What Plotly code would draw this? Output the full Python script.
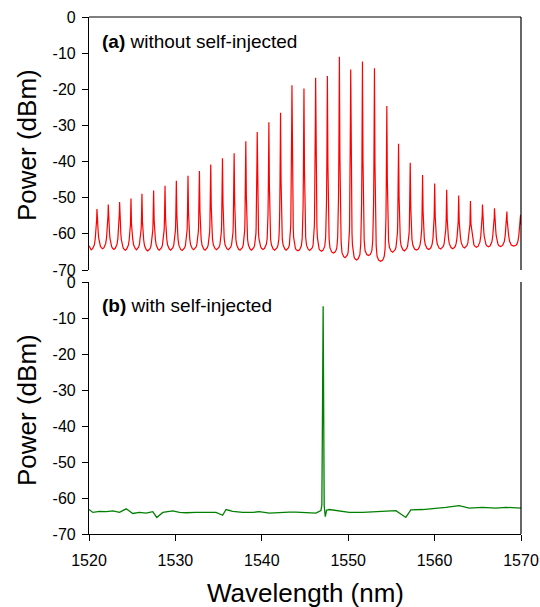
import numpy as np
import plotly.graph_objects as go
from plotly.subplots import make_subplots

# ---------------- data ----------------
WL_RANGE = [1520, 1570]
X_TICKS = [1520, 1530, 1540, 1550, 1560, 1570]
X_TICK_LABELS = ["1520", "1530", "1540", "1550", "1560", "1570"]
Y_RANGE = [-70, 0]
Y_TICKS = [0, -10, -20, -30, -40, -50, -60, -70]
Y_TICK_LABELS = ["0", "-10", "-20", "-30", "-40", "-50", "-60", "-70"]

# (a) without self-injection: Fabry-Perot longitudinal modes
MODE_WL = [1520.92, 1522.23, 1523.54, 1524.86, 1526.13, 1527.48, 1528.80, 1530.11,
           1531.46, 1532.78, 1534.09, 1535.45, 1536.80, 1538.15, 1539.47, 1540.82,
           1542.17, 1543.49, 1544.88, 1546.23, 1547.59, 1548.98, 1550.29, 1551.65,
           1553.04, 1554.47, 1555.83, 1557.18, 1558.61, 1560.01, 1561.40, 1562.79,
           1564.15, 1565.54, 1566.93, 1568.37, 1569.95]
MODE_DBM = [-53.1, -51.9, -51.2, -50.2, -48.9, -48.0, -46.7, -45.3,
            -43.9, -42.6, -40.8, -39.1, -37.7, -34.4, -31.8, -29.1,
            -26.5, -18.9, -19.8, -16.8, -16.3, -11.0, -14.5, -12.3,
            -14.2, -24.6, -35.1, -40.3, -43.7, -46.1, -47.8, -49.4,
            -50.9, -51.9, -52.9, -53.8, -54.7]
# floor level left of each mode (before mode 1, then between consecutive modes)
VALLEY_DBM = [-64.4, -64.1, -64.3, -64.5, -64.4, -64.7, -64.5, -64.5,
              -64.6, -64.4, -64.5, -64.4, -64.4, -64.5, -64.5, -64.3,
              -64.5, -64.5, -64.7, -64.6, -64.8, -65.3, -66.6, -67.2,
              -66.0, -67.6, -65.1, -64.7, -64.5, -64.3, -64.2, -64.1,
              -63.9, -63.7, -63.6, -63.5, -63.4]
START_DBM = -63.3

# single-mode line shape
PROFILE_DX = [0.00, 0.03, 0.06, 0.10, 0.13, 0.15, 0.20, 0.30, 0.40, 0.50]
PROFILE_CORE_FRAC = [1.00, 0.75, 0.50, 0.28, 0.18, 0.14, 0.08, 0.02, 0.00, 0.00]
PROFILE_SKIRT_DB = [6.0, 6.0, 6.0, 5.6, 4.9, 4.4, 3.0, 1.4, 0.7, 0.3]

# (b) with self-injection
SI_WL = [1520.00, 1520.45, 1521.22, 1521.99, 1522.76, 1523.53, 1524.30, 1525.07,
         1525.84, 1526.61, 1527.38, 1527.85, 1528.54, 1529.70, 1530.47, 1531.24,
         1532.39, 1533.55, 1534.70, 1535.47, 1535.86, 1536.63, 1537.79, 1538.94,
         1539.71, 1540.87, 1542.02, 1543.18, 1543.95, 1545.11, 1546.26, 1546.84,
         1546.95, 1547.00, 1547.05, 1547.10, 1547.15, 1547.22, 1547.35, 1547.50,
         1547.81, 1548.97, 1550.12, 1551.66, 1553.59, 1555.52, 1556.67, 1557.25,
         1558.60, 1560.14, 1561.30, 1562.84, 1564.00, 1565.54, 1567.08, 1568.24,
         1570.00]
SI_DBM = [-63.2, -64.0, -63.7, -63.8, -63.6, -64.0, -63.0, -64.3,
          -64.0, -64.2, -63.8, -65.4, -64.0, -63.6, -64.0, -64.1,
          -64.0, -64.0, -64.0, -64.8, -63.2, -63.7, -64.0, -64.0,
          -63.8, -64.2, -64.0, -63.9, -63.9, -64.0, -64.2, -63.5,
          -62.0, -45.0, -20.0, -6.7, -30.0, -62.0, -65.2, -63.4,
          -63.2, -63.6, -64.0, -64.0, -63.8, -63.5, -65.4, -63.3,
          -63.2, -62.9, -62.6, -62.1, -62.8, -62.6, -62.8, -62.6,
          -62.8]

# ---------------- build the multimode trace ----------------
def mode_level(d, peak, valley):
    core = np.interp(abs(d), PROFILE_DX, PROFILE_CORE_FRAC) * (peak - valley)
    skirt = np.interp(abs(d), PROFILE_DX, PROFILE_SKIRT_DB)
    return valley + max(core, skirt)

offs = [-x for x in PROFILE_DX[::-1]] + PROFILE_DX[1:]
fp_wl = [WL_RANGE[0]]
fp_db = [START_DBM]
n = len(MODE_WL)
for k in range(n):
    c, p = MODE_WL[k], MODE_DBM[k]
    vl = VALLEY_DBM[k]
    vr = VALLEY_DBM[k + 1] if k + 1 < n else VALLEY_DBM[-1]
    if k == 0:
        fp_wl.append(WL_RANGE[0] + 0.25)
    else:
        fp_wl.append(0.5 * (MODE_WL[k - 1] + c))
    fp_db.append(vl)
    for d in offs:
        x = c + d
        if x > WL_RANGE[1] or (k == 0 and x < WL_RANGE[0] + 0.3):
            continue
        if k > 0 and d < 0 and x <= 0.5 * (MODE_WL[k - 1] + c):
            continue
        if k + 1 < n and d > 0 and x >= 0.5 * (MODE_WL[k + 1] + c):
            continue
        fp_wl.append(x)
        fp_db.append(mode_level(d, p, vl if d < 0 else vr))
fp_wl.append(WL_RANGE[1])
fp_db.append(mode_level(WL_RANGE[1] - MODE_WL[-1], MODE_DBM[-1], VALLEY_DBM[-1]))

# ---------------- figure ----------------
FONT = "Liberation Sans, Arial, sans-serif"
W, H = 540, 607
ML, MR, MT, MB = 89, 19, 17, 73
PH = H - MT - MB

fig = make_subplots(rows=2, cols=1, shared_xaxes=False)

fig.add_trace(go.Scatter(x=fp_wl, y=fp_db, mode="lines",
                         line=dict(color="#FF0000", width=1.2),
                         showlegend=False), row=1, col=1)
fig.add_trace(go.Scatter(x=SI_WL, y=SI_DBM, mode="lines",
                         line=dict(color="#008000", width=1.3),
                         showlegend=False), row=2, col=1)

top_dom = [0.5106, 1.0]
bot_dom = [0.0, 0.4874]

axis_common = dict(showgrid=False, zeroline=False, linecolor="black", linewidth=1.2,
                   tickcolor="black", tickwidth=1.2, automargin=False,
                   tickfont=dict(family=FONT, size=16, color="black"))

fig.update_layout(
    width=W, height=H, autosize=False,
    margin=dict(l=ML, r=MR, t=MT, b=MB, autoexpand=False),
    paper_bgcolor="white", plot_bgcolor="white",
    xaxis=dict(axis_common, domain=[0, 1], range=WL_RANGE, showline=False,
               ticks="", showticklabels=False, anchor="y"),
    yaxis=dict(axis_common, domain=top_dom, range=Y_RANGE, showline=True,
               ticks="outside", ticklen=6, tickvals=Y_TICKS, ticktext=Y_TICK_LABELS,
               ticklabelstandoff=3),
    xaxis2=dict(axis_common, domain=[0, 1], range=WL_RANGE, showline=True,
                ticks="outside", ticklen=6, tickvals=X_TICKS, ticktext=X_TICK_LABELS,
                ticklabelstandoff=6, anchor="y2"),
    yaxis2=dict(axis_common, domain=bot_dom, range=Y_RANGE, showline=True,
                ticks="outside", ticklen=6, tickvals=Y_TICKS, ticktext=Y_TICK_LABELS,
                ticklabelstandoff=3, anchor="x2"),
)

line_style = dict(color="black", width=1.2)
fig.add_shape(type="line", xref="x domain", yref="y domain", x0=0, x1=1, y0=1, y1=1,
              line=line_style)
fig.add_shape(type="line", xref="x domain", yref="y domain", x0=1, x1=1, y0=0, y1=1,
              line=line_style)
fig.add_shape(type="line", xref="x2 domain", yref="y2 domain", x0=1, x1=1, y0=0, y1=1,
              line=line_style)

def py(screen_y):
    return (MT + PH - screen_y) / PH

def px(screen_x):
    return (screen_x - ML) / (W - ML - MR)

ann_font = dict(family=FONT, size=19, color="black")
title_font = dict(family=FONT, size=26, color="black")
fig.add_annotation(text="<b>(a)</b> without self-injected", xref="paper", yref="paper",
                   x=px(100), y=py(41), xanchor="left", yanchor="middle",
                   showarrow=False, font=ann_font)
fig.add_annotation(text="<b>(b)</b> with self-injected", xref="paper", yref="paper",
                   x=px(100), y=py(305), xanchor="left", yanchor="middle",
                   showarrow=False, font=ann_font)
for yc in [145, 410]:
    fig.add_annotation(text="Power (dBm)", xref="paper", yref="paper",
                       x=px(27), y=py(yc), xanchor="center", yanchor="middle",
                       textangle=-90, showarrow=False, font=title_font)
fig.add_annotation(text="Wavelength (nm)", xref="paper", yref="paper",
                   x=0.5, y=py(593), xanchor="center", yanchor="middle",
                   showarrow=False, font=title_font)

# remove the page's default body margin so the figure sits at the window origin
fig.write_html("out.html", config={"displayModeBar": False, "responsive": False},
               post_script="document.body.style.margin='0';")
